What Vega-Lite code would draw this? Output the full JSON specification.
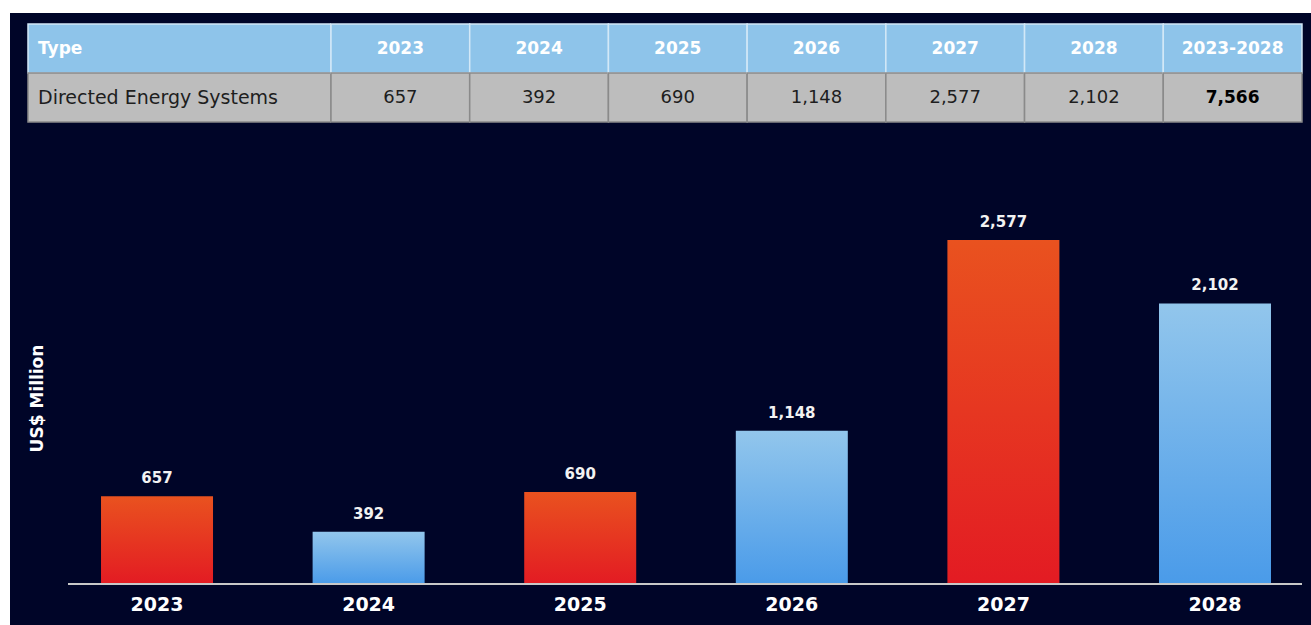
{
  "$schema": "https://vega.github.io/schema/vega-lite/v6.json",
  "background": "#FFFFFF",
  "padding": {"left": 10, "top": 13, "right": 0, "bottom": 0},
  "autosize": {"type": "pad"},
  "spacing": 0,
  "config": {"view": {"fill": "#000528", "stroke": null}, "font": "DejaVu Sans"},
  "datasets": {
    "table": [
      {"col": "Type", "row": "Header", "label": "Type"},
      {"col": "Type", "row": "Value", "label": "Directed Energy Systems"},
      {"col": "2023", "row": "Header", "label": "2023"},
      {"col": "2023", "row": "Value", "label": "657"},
      {"col": "2024", "row": "Header", "label": "2024"},
      {"col": "2024", "row": "Value", "label": "392"},
      {"col": "2025", "row": "Header", "label": "2025"},
      {"col": "2025", "row": "Value", "label": "690"},
      {"col": "2026", "row": "Header", "label": "2026"},
      {"col": "2026", "row": "Value", "label": "1,148"},
      {"col": "2027", "row": "Header", "label": "2027"},
      {"col": "2027", "row": "Value", "label": "2,577"},
      {"col": "2028", "row": "Header", "label": "2028"},
      {"col": "2028", "row": "Value", "label": "2,102"},
      {"col": "2023-2028", "row": "Header", "label": "2023-2028"},
      {"col": "2023-2028", "row": "Value", "label": "7,566"}
    ],
    "bars": [
      {"year": "2023", "value": 657},
      {"year": "2024", "value": 392},
      {"year": "2025", "value": 690},
      {"year": "2026", "value": 1148},
      {"year": "2027", "value": 2577},
      {"year": "2028", "value": 2102}
    ]
  },
  "vconcat": [
    {
      "spacing": 0,
      "bounds": "flush",
      "hconcat": [
        {
          "width": 321,
          "height": 150,
          "data": {"name": "table"},
          "transform": [{"filter": "datum.col === 'Type'"}],
          "encoding": {
            "x": {"field": "col", "type": "nominal", "axis": null, "scale": {"type": "band", "domain": ["Type"], "paddingInner": 0, "paddingOuter": 0.0297, "align": 1}},
            "y": {"field": "row", "type": "nominal", "axis": null, "scale": {"type": "band", "domain": ["Header", "Value"], "paddingInner": 0, "paddingOuter": 0.53, "align": 0.21}}
          },
          "layer": [
            {
              "mark": {"type": "rect", "strokeWidth": 1.5},
              "encoding": {
                "fill": {"field": "row", "type": "nominal", "legend": null, "scale": {"domain": ["Header", "Value"], "range": ["#8EC4EA", "#BDBDBD"]}},
                "stroke": {"field": "row", "type": "nominal", "legend": null, "scale": {"domain": ["Header", "Value"], "range": ["#D2E8F7", "#8A8A8A"]}}
              }
            },
            {
              "transform": [{"filter": "datum.row === 'Header'"}],
              "mark": {"type": "text", "align": "left", "dx": 10, "dy": 1, "fontSize": 17, "fontWeight": "bold", "color": "#FFFFFF"},
              "encoding": {
                "x": {"field": "col", "type": "nominal", "bandPosition": 0},
                "text": {"field": "label"}
              }
            },
            {
              "transform": [{"filter": "datum.row === 'Value'"}],
              "mark": {"type": "text", "align": "left", "dx": 10, "dy": 1, "fontSize": 19, "color": "#1E1E1E"},
              "encoding": {
                "x": {"field": "col", "type": "nominal", "bandPosition": 0},
                "text": {"field": "label"}
              }
            }
          ]
        },
        {
          "width": 980,
          "height": 150,
          "data": {"name": "table"},
          "transform": [{"filter": "datum.col !== 'Type'"}],
          "encoding": {
            "x": {"field": "col", "type": "nominal", "axis": null, "scale": {"type": "band", "domain": ["2023", "2024", "2025", "2026", "2027", "2028", "2023-2028"], "paddingInner": 0, "paddingOuter": 0.0325, "align": 0}},
            "y": {"field": "row", "type": "nominal", "axis": null, "scale": {"type": "band", "domain": ["Header", "Value"], "paddingInner": 0, "paddingOuter": 0.53, "align": 0.21}}
          },
          "layer": [
            {
              "mark": {"type": "rect", "strokeWidth": 1.5},
              "encoding": {
                "fill": {"field": "row", "type": "nominal", "legend": null, "scale": {"domain": ["Header", "Value"], "range": ["#8EC4EA", "#BDBDBD"]}},
                "stroke": {"field": "row", "type": "nominal", "legend": null, "scale": {"domain": ["Header", "Value"], "range": ["#D2E8F7", "#8A8A8A"]}}
              }
            },
            {
              "transform": [{"filter": "datum.row === 'Header'"}],
              "mark": {"type": "text", "align": "center", "dy": 1, "fontSize": 17, "fontWeight": "bold", "color": "#FFFFFF"},
              "encoding": {"text": {"field": "label"}}
            },
            {
              "transform": [{"filter": "datum.row === 'Value' && datum.col !== '2023-2028'"}],
              "mark": {"type": "text", "align": "center", "dy": 1, "fontSize": 18, "color": "#1E1E1E"},
              "encoding": {"text": {"field": "label"}}
            },
            {
              "transform": [{"filter": "datum.row === 'Value' && datum.col === '2023-2028'"}],
              "mark": {"type": "text", "align": "center", "dy": 1, "fontSize": 17, "fontWeight": "bold", "color": "#000000"},
              "encoding": {"text": {"field": "label"}}
            }
          ]
        }
      ]
    },
    {
      "width": 1301,
      "height": 462,
      "data": {"name": "bars"},
      "encoding": {
        "x": {"field": "year", "type": "nominal", "sort": null,
          "scale": {"type": "band", "domain": ["2023", "2024", "2025", "2026", "2027", "2028"], "paddingInner": 0.4707, "paddingOuter": 0.3096, "align": 0.6947},
          "axis": {"orient": "bottom", "offset": -41, "domain": false, "ticks": false, "grid": false, "title": null, "labelAngle": 0, "labelPadding": 11, "labelFontSize": 19, "labelFontWeight": "bold", "labelColor": "#FFFFFF", "minExtent": 0}},
        "y": {"field": "value", "type": "quantitative",
          "scale": {"domain": [-307, 3154], "nice": false, "zero": false},
          "axis": {"domain": false, "ticks": false, "labels": false, "grid": false, "minExtent": 0, "title": "US$ Million", "titleX": 27, "titleY": 235, "titleAngle": -90, "titleAlign": "center", "titleBaseline": "middle", "titleFontSize": 17, "titleFontWeight": "bold", "titleColor": "#FFFFFF"}}
      },
      "layer": [
        {
          "transform": [{"filter": {"field": "year", "oneOf": ["2023", "2025", "2027"]}}],
          "mark": {"type": "bar", "color": {"gradient": "linear", "x1": 0, "y1": 0, "x2": 0, "y2": 1, "stops": [{"offset": 0, "color": "#E9521F"}, {"offset": 1, "color": "#E31B23"}]}},
          "encoding": {"y2": {"datum": 0}}
        },
        {
          "transform": [{"filter": {"field": "year", "oneOf": ["2024", "2026", "2028"]}}],
          "mark": {"type": "bar", "color": {"gradient": "linear", "x1": 0, "y1": 0, "x2": 0, "y2": 1, "stops": [{"offset": 0, "color": "#92C6EC"}, {"offset": 1, "color": "#4A9BE9"}]}},
          "encoding": {"y2": {"datum": 0}}
        },
        {
          "mark": {"type": "text", "baseline": "alphabetic", "dy": -13, "fontSize": 15, "fontWeight": "bold", "color": "#F2F2F2"},
          "encoding": {"text": {"field": "value", "type": "quantitative", "format": ","}}
        },
        {
          "mark": {"type": "rule", "color": "#C8C8C8", "strokeWidth": 2},
          "encoding": {
            "x": {"datum": "2023", "bandPosition": -0.2946},
            "x2": {"datum": "2028", "bandPosition": 1.2768},
            "y": {"datum": 0},
            "y2": null
          }
        }
      ]
    }
  ]
}
